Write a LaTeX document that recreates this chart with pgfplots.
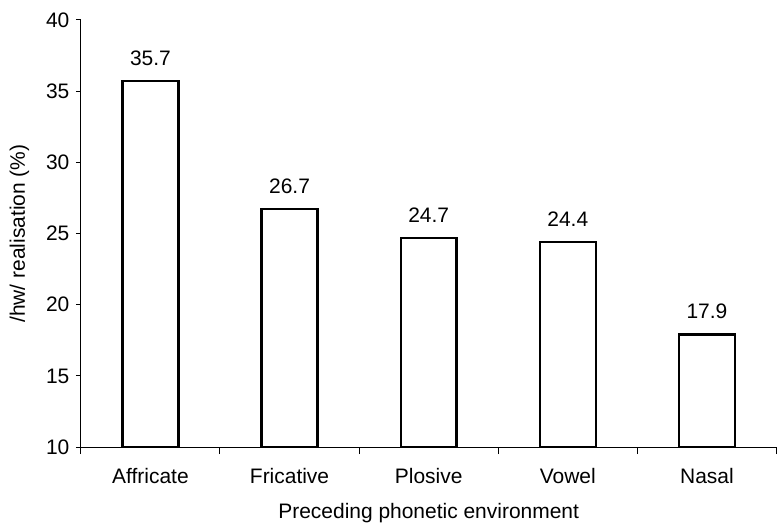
\documentclass[border=0pt]{standalone}
\usepackage{fontspec}
\setmainfont{Liberation Sans}
\usepackage{pgfplots}
\pgfplotsset{compat=1.18}
\begin{document}
\begin{tikzpicture}
\begin{axis}[
  name=main,
  scale only axis,
  width=697pt, height=428pt,
  ymin=10, ymax=40,
  ytick={10,15,...,40},
  xmin=-0.5, xmax=4.5,
  xtick={0,1,2,3,4},
  xticklabels={Affricate,Fricative,Plosive,Vowel,Nasal},
  minor xtick={-0.5,0.5,1.5,2.5,3.5,4.5},
  axis lines*=left,
  axis line style={line width=1pt},
  tick align=outside,
  major tick length=5pt,
  minor tick length=7pt,
  x tick style={draw=none},
  minor x tick style={draw=black, line width=1pt},
  y tick style={line width=1pt, black},
  /pgf/number format/assume math mode=true,
  tick label style={font=\fontsize{21}{25}\selectfont},
  xticklabel style={yshift=-13pt},
  yticklabel style={xshift=-3pt},
  label style={font=\fontsize{21}{25}\selectfont},
  xlabel={Preceding phonetic environment},
  xlabel style={at={(axis description cs:0.5,0)}, anchor=base, yshift=-71pt},
  ylabel={/hw/ realisation (\%)},
  ylabel style={at={(axis description cs:0,0.5)}, anchor=base, yshift=56pt},
  ybar,
  bar width=56pt,
  nodes near coords,
  nodes near coords style={font=\fontsize{21}{25}\selectfont, yshift=11pt,
    /pgf/number format/.cd, fixed, fixed zerofill, precision=1},
]
\addplot[draw=black, fill=white, line width=2.3pt] coordinates {
  (0,35.7) (1,26.7) (2,24.7) (3,24.4) (4,17.9)
};
\end{axis}
% page frame around the axis and its labels
\path (main.south west) ++(-81pt,-76pt) coordinate (bl);
\path (main.north east) ++(0pt,20pt) coordinate (tr);
\path[use as bounding box] (bl) rectangle (tr);
\end{tikzpicture}
\end{document}
